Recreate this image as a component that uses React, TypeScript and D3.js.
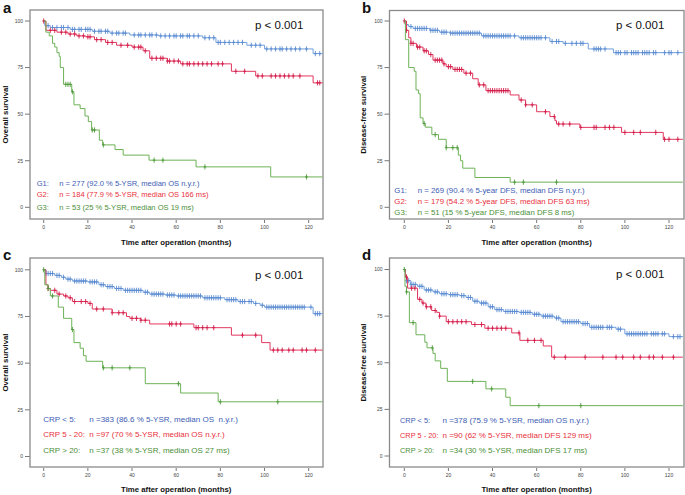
import React from 'react';
import * as d3 from 'd3';

type Step = [number, number];

const X_TICKS = [0, 20, 40, 60, 80, 100, 120];
const Y_TICKS = [0, 25, 50, 75, 100];
const T_END = 126.3;

// ---------- Panel a (Overall survival, G1-G3)
const A1_STEPS: Step[] = [[0,100],[0.5,97.5],[3,96.5],[12,95.5],[22,94.5],[30,93.5],[39,92.5],[52,92],[72,91],[78,88.5],[92,87],[100,85],[122,82.5]];
const A1_CENS = [2,4,6,8,9,11,13,14,16,17,19,20,21,23,25,26,28,29,31,33,34,36,37,41,43,44,46,48,49,51,53,55,57,59,60,62,63,65,66,68,70,73,75,77,79,80,82,84,86,88,90,94,96,98,101,103,105,107,108,110,112,114,116,119,123,125];
const A2_STEPS: Step[] = [[0,100],[1,95],[6,94],[11,93],[15,92],[19,91.5],[23,90],[28,88.5],[33,87],[40,86],[45,84],[48,80],[56,78.5],[62,77],[85,73],[96,70.5],[122,66.8]];
const A2_CENS = [0,3,5,8,10,12,14,16,18,20,21,24,26,29,31,35,38,41,43,44,46,49,51,53,54,56,57,59,61,63,65,66,68,70,72,74,76,79,81,87,91,97,99,103,105,107,109,111,113,116,124,125];
const A3_STEPS: Step[] = [[0,100],[1,94],[2.5,92],[4,88],[5,86],[6,83],[7,81],[7.5,75],[9,66],[12.7,62],[13.7,55],[16.5,53],[18.7,49],[20.2,46],[21.7,41.5],[25.2,36],[26.7,33.5],[32.3,31],[36,28],[47.7,25.3],[69,21.7],[102.8,16.3]];
const A3_CENS = [10,11,12,13,22,23,27,50,54,73,119];

// ---------- Panel b (Disease-free survival, G1-G3)
const B1_STEPS: Step[] = [[0,100],[0.5,98],[2,97],[4,96],[11.6,95],[16,94],[20.7,93.5],[35,92],[52,91],[66,89],[72,88],[83.4,85],[94.8,83]];
const B1_CENS = [1,3,5,6,7,8,9,10,12,13,14,15,17,18,19,21,22,23,24,25,26,27,28,29,30,31,32,33,34,36,37,38,39,40,41,42,43,44,45,46,47,48,50,53,54,55,56,57,58,59,60,61,62,64,67,69,70,73,76,78,80,81,86,87,88,89,91,96,97,98,100,101,103,104,105,106,108,109,110,111,113,114,118,120,121,124];
const B2_STEPS: Step[] = [[0,100],[1,95],[2,91],[3,88],[5.5,86],[8.5,84],[11,82],[13,79],[17.5,77],[19,75.5],[22,74],[27,72],[31,69],[33.5,65.7],[37,62.6],[48,60.3],[52,57.6],[55,55],[60,51.3],[66,48.7],[68.3,46.5],[69,44.7],[79.6,42.9],[98.5,40.2],[117.4,36.5]];
const B2_CENS = [0,1,3,4,6,7,9,10,12,14,15,16,17,18,20,21,23,24,25,26,28,30,34,36,38,39,40,41,42,43,44,45,46,47,53,55,58,64,68,70,72,75,80,86,87,91,93,95,100,104,107,114,118,120,124];
const B3_STEPS: Step[] = [[0,100],[0.5,90],[2,75],[4.5,73],[5.3,63],[6.5,61],[7.2,48],[8.5,45],[9.5,43],[12.5,39],[15.5,36.5],[19,32],[24.5,28],[25.5,25],[26.5,21],[32,16],[48,13.5]];
const B3_CENS = [9,14,19,22,24,50,54,69];

// ---------- Panel c (Overall survival, CRP groups)
const C1_STEPS: Step[] = [[0,100],[1,98],[5,97],[8,96],[10,95],[13,94],[20,93.5],[25,92],[28,91],[32,90],[36,89],[45,88],[48,87],[55,86.5],[60,86],[72,85],[82,84],[88,83],[95,82],[98,81],[100,80],[122,76.5]];
const C1_CENS = [1,2,3,4,6,7,9,11,12,14,15,16,17,18,19,21,22,23,24,26,27,29,30,31,33,34,35,37,38,39,40,41,42,43,44,46,47,49,50,51,52,53,54,56,57,58,59,61,62,63,64,65,66,67,68,69,70,71,73,74,75,76,77,78,79,80,83,84,85,86,87,89,90,91,93,94,96,99,101,102,103,104,105,106,107,108,109,110,111,112,113,114,115,116,117,118,121,123,124,125];
const C2_STEPS: Step[] = [[0,100],[1,92],[2,90],[3,89],[6,87],[9,86],[11,85],[13,83],[20,82],[22,79],[31,77],[37.5,75],[39,74],[44,73],[48,71],[68,69],[85,65],[98.7,61],[102.5,57]];
const C2_CENS = [2,5,7,10,12,14,17,19,21,24,27,31,34,36,40,42,44,46,57,58,60,62,69,70,72,74,77,90,96,104,106,108,111,113,117,119,123];
const C3_STEPS: Step[] = [[0,100],[0.5,92],[2,90],[3,86],[6.6,80],[9,74],[12.7,68],[13.7,61],[16.5,58],[18,54],[19.2,51],[26.7,47.5],[46,39],[62,34],[79,29.3]];
const C3_CENS = [0,2,4,13,27,31,39,61,80,106];

// ---------- Panel d (Disease-free survival, CRP groups)
const D1_STEPS: Step[] = [[0,100],[0.5,96],[1,94],[3,92],[6,91],[9,89],[13,88],[16,87],[20,86.5],[25,86],[28,85],[31,83],[34,82],[38,80],[41,78.5],[45,77.5],[52,77],[58,76],[62,75],[68,74],[71,72],[80,71],[84,69],[96,68],[100,65.5],[120,64]];
const D1_CENS = [1,2,3,4,5,7,8,10,11,12,14,15,17,18,19,21,22,23,24,26,27,29,30,32,33,35,36,37,39,40,42,43,44,46,47,48,49,50,51,53,54,55,56,57,59,60,61,63,64,65,66,67,69,70,72,73,74,75,76,77,78,79,81,82,83,85,86,87,88,89,90,92,93,94,97,98,101,102,103,104,105,106,107,108,109,110,112,113,114,115,117,118,122,124,125];
const D2_STEPS: Step[] = [[0,100],[0.5,96],[1.5,90],[6,84],[8,82],[9.8,80],[12.4,78],[14.7,77],[16,75],[19,72],[30.5,70.5],[36.5,68.5],[48.7,66],[52.4,62],[63,59],[66.8,53]];
const D2_CENS = [1,3.3,4.8,7,8.5,10,12,14,16,20,22,24,26,28,32,35,38,40,42,44,46,52,56,59,62,68,73,82,90,96,99,104,107,111,113,117,122];
const D3_STEPS: Step[] = [[0,100],[0.3,91],[1,88],[2.3,71.5],[5.3,65],[9.3,61],[10.3,58],[13,55],[14,51],[16.5,47],[19.5,40],[37,36],[46,31.5],[48,27]];
const D3_CENS = [0,1,4,12.7,31,39.6,61,80];

// ---------- Labels
const A_KEYS = ['G1:', 'G2:', 'G3:'];
const A_TEXT = ['n = 277 (92.0 % 5-YSR, median OS n.y.r.)', 'n = 184 (77.9 % 5-YSR, median OS 166 ms)', 'n = 53 (25 % 5-YSR, median OS 19 ms)'];
const B_KEYS = ['G1:', 'G2:', 'G3:'];
const B_TEXT = ['n = 269 (90.4 % 5-year DFS, median DFS n.y.r.)', 'n = 179 (54.2 % 5-year DFS, median DFS 63 ms)', 'n = 51 (15 % 5-year DFS, median DFS 8 ms)'];
const C_KEYS = ['CRP < 5:', 'CRP 5 - 20:', 'CRP > 20:'];
const C_TEXT = ['n =383 (86.6 % 5-YSR, median OS  n.y.r.)', 'n =97 (70 % 5-YSR, median OS n.y.r.)', 'n =37 (38 % 5-YSR, median OS 27 ms)'];
const D_KEYS = ['CRP < 5:', 'CRP 5 - 20:', 'CRP > 20:'];
const D_TEXT = ['n =378 (75.9 % 5-YSR, median OS n.y.r.)', 'n =90 (62 % 5-YSR, median DFS 129 ms)', 'n =34 (30 % 5-YSR, median DFS 17 ms)'];

const LINE_COLORS = ['#6f9fde', '#e2375f', '#6db256'];
const CENS_COLORS = ['#5b8bd0', '#d21d4a', '#4f9a3c'];
const TEXT_COLORS = ['#3d5cb4', '#e8303c', '#4b8f38'];
const FONT = 'Liberation Sans, Arial, Helvetica, sans-serif';

interface Series { steps: Step[]; cens: number[]; }
interface PanelProps {
  label: string; yTitle: string;
  box: { l: number; r: number; t: number; b: number };
  xr: [number, number]; yr: [number, number];
  series: Series[]; keys: string[]; texts: string[];
  legX: [number, number]; legY: number[]; legSize: number; keySize: number;
  pPos: [number, number]; labelPos: [number, number];
  yTitleX: number; xTitleY: number;
}

function valueAt(steps: Step[], t: number): number {
  let v = steps[0][1];
  for (const s of steps) { if (s[0] <= t) v = s[1]; }
  return v;
}

function Panel(p: PanelProps) {
  const x = d3.scaleLinear().domain([0, 120]).range(p.xr);
  const y = d3.scaleLinear().domain([0, 100]).range(p.yr);
  const line = d3.line<Step>().x(d => x(d[0])).y(d => y(d[1])).curve(d3.curveStepAfter);
  const { l, r, t, b } = p.box;
  const cx = (p.xr[0] + p.xr[1]) / 2;
  const cy = (t + b) / 2;
  return (
    <g fontFamily={FONT}>
      <text x={p.labelPos[0]} y={p.labelPos[1]} fontSize={15} fontWeight="bold" fill="#111">{p.label}</text>
      {Y_TICKS.map(v => (
        <g key={'y' + v}>
          <line x1={l - 5} x2={l} y1={y(v)} y2={y(v)} stroke="#555" strokeWidth={0.8} />
          <text x={l - 7} y={y(v) + 1.8} fontSize={5} textAnchor="end" fill="#444">{v}</text>
        </g>
      ))}
      {X_TICKS.map(v => (
        <g key={'x' + v}>
          <line x1={x(v)} x2={x(v)} y1={b + 1} y2={b + 4} stroke="#555" strokeWidth={0.8} />
          <text x={x(v)} y={b + 10} fontSize={5} textAnchor="middle" fill="#444">{v}</text>
        </g>
      ))}
      <rect x={l} y={t} width={r - l} height={b - t} fill="white" stroke="#8a8a8a" strokeWidth={1.3} />
      {p.series.map((s, i) => {
        const pts: Step[] = [...s.steps, [T_END, s.steps[s.steps.length - 1][1]]];
        return (
          <g key={'s' + i}>
            <path d={line(pts) || ''} fill="none" stroke={LINE_COLORS[i]} strokeWidth={1} />
            {s.cens.map((c, j) => {
              const cxp = x(c), cyp = y(valueAt(s.steps, c));
              return (
                <g key={j}>
                  <line x1={cxp} x2={cxp} y1={cyp - 2.6} y2={cyp + 2.6} stroke={CENS_COLORS[i]} strokeWidth={0.9} />
                  <line x1={cxp - 1.4} x2={cxp + 1.4} y1={cyp} y2={cyp} stroke={CENS_COLORS[i]} strokeWidth={1} />
                </g>
              );
            })}
          </g>
        );
      })}
      <text x={p.pPos[0]} y={p.pPos[1]} fontSize={11.5} fill="#111">p &lt; 0.001</text>
      {p.keys.map((k, i) => (
        <g key={'lg' + i} fill={TEXT_COLORS[i]}>
          <text x={p.legX[0]} y={p.legY[i]} fontSize={p.keySize} style={{ whiteSpace: 'pre' }}>{k}</text>
          <text x={p.legX[1]} y={p.legY[i]} fontSize={p.legSize} style={{ whiteSpace: 'pre' }}>{p.texts[i]}</text>
        </g>
      ))}
      <text x={cx} y={p.xTitleY} fontSize={7.8} fontWeight="bold" textAnchor="middle" fill="#111">Time after operation (months)</text>
      <text transform={`translate(${p.yTitleX},${cy}) rotate(-90)`} fontSize={7.8} fontWeight="bold" textAnchor="middle" fill="#111">{p.yTitle}</text>
    </g>
  );
}

export default function App() {
  return (
    <svg width={685} height={495} style={{ position: 'absolute', left: 0, top: 0, background: 'white' }}>
      <Panel label="a" yTitle="Overall survival" box={{ l: 30, r: 323, t: 10, b: 219 }}
        xr={[43.7, 308.7]} yr={[207.3, 21]}
        series={[{ steps: A1_STEPS, cens: A1_CENS }, { steps: A2_STEPS, cens: A2_CENS }, { steps: A3_STEPS, cens: A3_CENS }]}
        keys={A_KEYS} texts={A_TEXT} legX={[36.7, 59.3]} legY={[185.5, 197, 210]} legSize={7.55} keySize={7.55}
        pPos={[255, 28.5]} labelPos={[3, 12.5]} yTitleX={7.5} xTitleY={244.5} />
      <Panel label="b" yTitle="Disease-free survival" box={{ l: 389.5, r: 684, t: 10.5, b: 219 }}
        xr={[404.3, 669]} yr={[207.3, 21]}
        series={[{ steps: B1_STEPS, cens: B1_CENS }, { steps: B2_STEPS, cens: B2_CENS }, { steps: B3_STEPS, cens: B3_CENS }]}
        keys={B_KEYS} texts={B_TEXT} legX={[394.3, 417.7]} legY={[192.6, 204.3, 214.6]} legSize={7.85} keySize={7.85}
        pPos={[616, 28.5]} labelPos={[362, 12.5]} yTitleX={366.3} xTitleY={244.5} />
      <Panel label="c" yTitle="Overall survival" box={{ l: 30, r: 323, t: 258, b: 467 }}
        xr={[43.7, 308.7]} yr={[456.5, 269.8]}
        series={[{ steps: C1_STEPS, cens: C1_CENS }, { steps: C2_STEPS, cens: C2_CENS }, { steps: C3_STEPS, cens: C3_CENS }]}
        keys={C_KEYS} texts={C_TEXT} legX={[43.3, 89.3]} legY={[422, 436.6, 453]} legSize={8} keySize={8}
        pPos={[255, 279]} labelPos={[3, 260]} yTitleX={7.5} xTitleY={492} />
      <Panel label="d" yTitle="Disease-free survival" box={{ l: 389.5, r: 684, t: 258, b: 467 }}
        xr={[404.3, 669]} yr={[456, 269.5]}
        series={[{ steps: D1_STEPS, cens: D1_CENS }, { steps: D2_STEPS, cens: D2_CENS }, { steps: D3_STEPS, cens: D3_CENS }]}
        keys={D_KEYS} texts={D_TEXT} legX={[400, 442.5]} legY={[423, 437.6, 453]} legSize={8} keySize={7.4}
        pPos={[616, 278]} labelPos={[362, 260]} yTitleX={366.3} xTitleY={492} />
    </svg>
  );
}
